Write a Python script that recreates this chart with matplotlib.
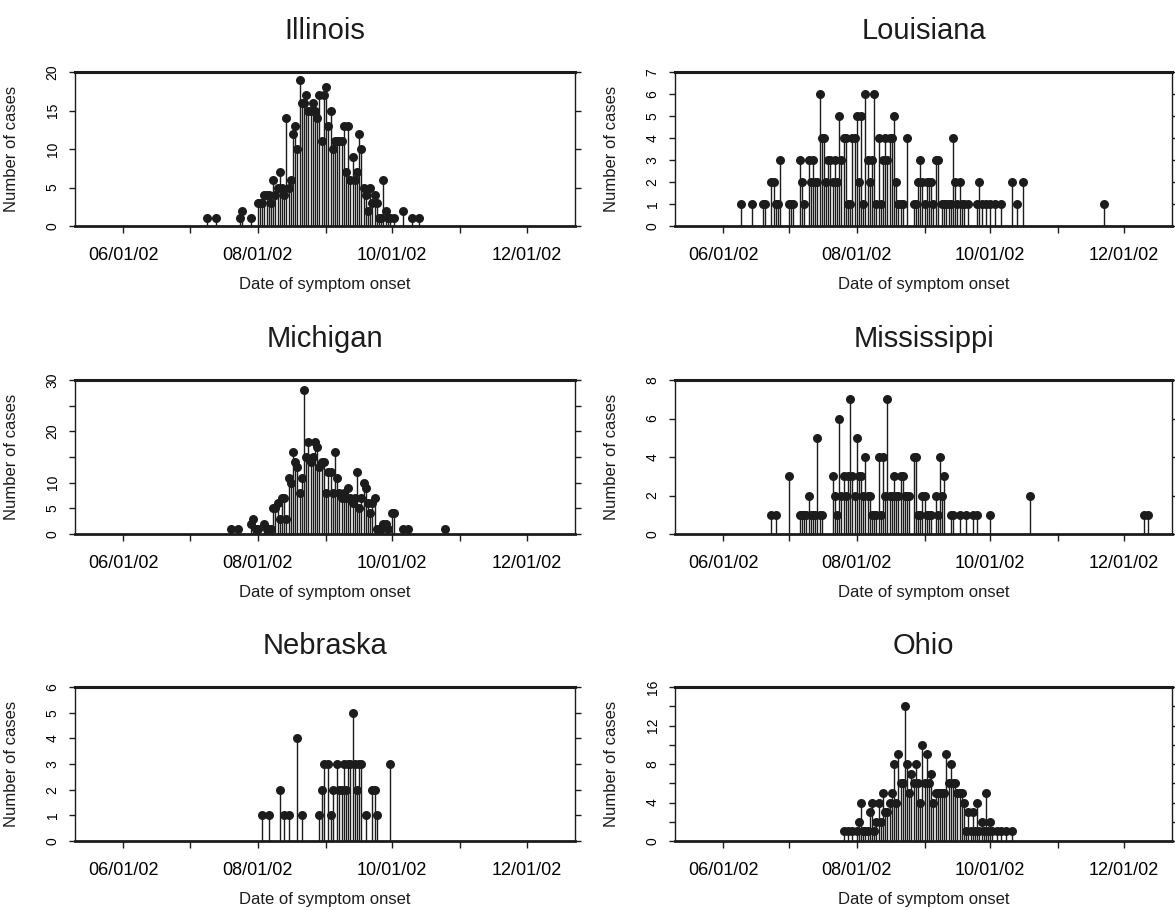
import matplotlib
matplotlib.use("Agg")
import matplotlib.pyplot as plt
import matplotlib.dates as mdates
import pandas as pd

plt.rcParams['font.family'] = ['Liberation Sans', 'DejaVu Sans']

# ---- data: onset date (2002) and number of cases ----
il_dates = ["07-09", "07-13", "07-24", "07-25", "07-29",
            "08-01", "08-02", "08-03", "08-04", "08-05", "08-06", "08-07", "08-08", "08-09", "08-10",
            "08-11", "08-12", "08-13", "08-14", "08-15", "08-16", "08-17", "08-18", "08-19", "08-20",
            "08-21", "08-22", "08-23", "08-24", "08-25", "08-26", "08-27", "08-28", "08-29", "08-30",
            "08-31", "09-01", "09-02", "09-03", "09-04", "09-05", "09-06", "09-07", "09-08", "09-09",
            "09-10", "09-11", "09-12", "09-13", "09-14", "09-15", "09-16", "09-17", "09-18", "09-19",
            "09-20", "09-21", "09-22", "09-23", "09-24", "09-25", "09-26", "09-27", "09-28", "09-29",
            "09-30", "10-02", "10-06", "10-10", "10-13"]
il_cases = [1, 1, 1, 2, 1,
            3, 3, 3, 4, 4, 4, 3, 6, 4, 5,
            7, 5, 4, 14, 5, 6, 12, 13, 10, 19,
            16, 16, 17, 15, 15, 16, 15, 14, 17, 11,
            17, 18, 13, 15, 10, 11, 11, 11, 11, 13,
            7, 13, 6, 9, 6, 7, 12, 10, 5, 4,
            2, 5, 3, 4, 3, 1, 1, 6, 2, 1,
            1, 1, 2, 1, 1]

la_dates = ["06-09", "06-14", "06-19", "06-20", "06-23", "06-24", "06-25", "06-26", "06-27",
            "07-01", "07-02", "07-03", "07-06", "07-07", "07-08", "07-10", "07-11", "07-12", "07-13",
            "07-14", "07-15", "07-16", "07-17", "07-18", "07-19", "07-20", "07-21", "07-22", "07-23",
            "07-24", "07-25", "07-26", "07-27", "07-28", "07-29", "07-30", "07-31",
            "08-01", "08-02", "08-03", "08-04", "08-05", "08-06", "08-07", "08-08", "08-09", "08-10",
            "08-11", "08-12", "08-13", "08-14", "08-15", "08-16", "08-17", "08-18", "08-19", "08-20",
            "08-21", "08-22", "08-24", "08-27", "08-28", "08-29", "08-30", "08-31",
            "09-01", "09-02", "09-03", "09-04", "09-05", "09-06", "09-07", "09-09", "09-10", "09-11",
            "09-12", "09-13", "09-14", "09-15", "09-16", "09-17", "09-18", "09-19", "09-21", "09-25",
            "09-26", "09-27", "09-29", "10-01", "10-03", "10-06", "10-11", "10-13", "10-16", "11-22"]
la_cases = [1, 1, 1, 1, 2, 2, 1, 1, 3,
            1, 1, 1, 3, 2, 1, 3, 2, 3, 2,
            2, 6, 4, 4, 2, 3, 3, 2, 3, 2,
            5, 3, 4, 4, 1, 1, 4, 4,
            5, 2, 5, 1, 6, 3, 2, 3, 6, 1,
            4, 1, 3, 4, 3, 4, 4, 5, 2, 1,
            1, 1, 4, 1, 1, 2, 3, 2,
            1, 2, 2, 2, 1, 3, 3, 1, 1, 1,
            1, 1, 4, 2, 1, 2, 1, 1, 1, 1,
            2, 1, 1, 1, 1, 1, 2, 1, 2, 1]

mi_dates = ["07-20", "07-23", "07-29", "07-30", "07-31", "08-01", "08-04", "08-05", "08-06", "08-07",
            "08-08", "08-09", "08-10", "08-11", "08-12", "08-13", "08-14", "08-15", "08-16", "08-17",
            "08-18", "08-19", "08-20", "08-21", "08-22", "08-23", "08-24", "08-25", "08-26", "08-27",
            "08-28", "08-29", "08-30", "08-31", "09-01", "09-02", "09-03", "09-04", "09-05", "09-06",
            "09-07", "09-08", "09-09", "09-10", "09-11", "09-12", "09-13", "09-14", "09-15", "09-16",
            "09-17", "09-18", "09-19", "09-20", "09-21", "09-22", "09-23", "09-24", "09-25", "09-26",
            "09-27", "09-28", "09-29", "10-01", "10-02", "10-06", "10-08", "10-25"]
mi_cases = [1, 1, 2, 3, 1, 1, 2, 1, 1, 1,
            5, 5, 6, 3, 7, 7, 3, 11, 10, 16,
            14, 13, 8, 11, 28, 15, 18, 14, 15, 18,
            17, 13, 14, 14, 8, 12, 12, 8, 16, 11,
            8, 7, 8, 7, 9, 7, 6, 7, 12, 5,
            7, 10, 9, 6, 4, 6, 7, 1, 1, 1,
            2, 2, 1, 4, 4, 1, 1, 1]

ms_dates = ["06-23", "06-25", "07-01", "07-06", "07-07", "07-08", "07-09", "07-10", "07-11", "07-12",
            "07-13", "07-14", "07-15", "07-16", "07-21", "07-22", "07-23", "07-24", "07-25", "07-26",
            "07-27", "07-28", "07-29", "07-30", "07-31", "08-01", "08-02", "08-03", "08-04", "08-05",
            "08-06", "08-07", "08-08", "08-09", "08-10", "08-11", "08-12", "08-13", "08-14", "08-15",
            "08-16", "08-17", "08-18", "08-19", "08-20", "08-21", "08-22", "08-23", "08-24", "08-25",
            "08-27", "08-28", "08-29", "08-30", "08-31", "09-01", "09-02", "09-03", "09-04", "09-06",
            "09-07", "09-08", "09-09", "09-10", "09-13", "09-14", "09-17", "09-20", "09-23", "09-25",
            "10-01", "10-19", "12-10", "12-12"]
ms_cases = [1, 1, 3, 1, 1, 1, 1, 2, 1, 1,
            1, 5, 1, 1, 3, 2, 1, 6, 2, 3,
            2, 3, 7, 3, 2, 5, 3, 3, 2, 4,
            2, 2, 1, 1, 1, 4, 1, 4, 2, 7,
            2, 2, 3, 2, 2, 3, 3, 2, 2, 2,
            4, 4, 1, 1, 2, 2, 1, 1, 1, 2,
            1, 4, 2, 3, 1, 1, 1, 1, 1, 1,
            1, 2, 1, 1]

ne_dates = ["08-03", "08-06", "08-11", "08-13", "08-15", "08-19", "08-21", "08-29", "08-30", "08-31",
            "09-02", "09-03", "09-04", "09-06", "09-07", "09-08", "09-09", "09-10", "09-11", "09-12",
            "09-13", "09-14", "09-15", "09-16", "09-17", "09-19", "09-22", "09-23", "09-24", "09-30"]
ne_cases = [1, 1, 2, 1, 1, 4, 1, 1, 2, 3,
            3, 1, 2, 3, 2, 2, 3, 2, 3, 3,
            5, 3, 2, 3, 3, 1, 2, 2, 1, 3]

oh_dates = ["07-26", "07-28", "07-30", "08-01", "08-02", "08-03", "08-04", "08-05", "08-06", "08-07",
            "08-08", "08-09", "08-10", "08-11", "08-12", "08-13", "08-14", "08-15", "08-16", "08-17",
            "08-18", "08-19", "08-20", "08-21", "08-22", "08-23", "08-24", "08-25", "08-26", "08-27",
            "08-28", "08-29", "08-30", "08-31", "09-01", "09-02", "09-03", "09-04", "09-05", "09-06",
            "09-07", "09-08", "09-09", "09-10", "09-11", "09-12", "09-13", "09-14", "09-15", "09-16",
            "09-17", "09-18", "09-19", "09-20", "09-21", "09-22", "09-23", "09-24", "09-25", "09-26",
            "09-27", "09-28", "09-29", "09-30", "10-01", "10-02", "10-04", "10-06", "10-08", "10-11"]
oh_cases = [1, 1, 1, 1, 2, 4, 1, 1, 1, 3,
            4, 1, 2, 4, 2, 5, 3, 3, 4, 5,
            8, 4, 9, 6, 6, 14, 8, 5, 7, 6,
            8, 6, 4, 10, 6, 9, 6, 7, 4, 5,
            5, 5, 5, 5, 9, 6, 8, 6, 6, 5,
            5, 5, 4, 1, 3, 1, 3, 1, 4, 1,
            2, 1, 5, 1, 2, 1, 1, 1, 1, 1]

states = ["Illinois", "Louisiana", "Michigan", "Mississippi", "Nebraska", "Ohio"]
all_dates = [il_dates, la_dates, mi_dates, ms_dates, ne_dates, oh_dates]
all_cases = [il_cases, la_cases, mi_cases, ms_cases, ne_cases, oh_cases]
y_max = [20, 7, 30, 8, 6, 16]
y_ticks = [[0, 5, 10, 15, 20], list(range(8)), [0, 5, 10, 15, 20, 25, 30],
           [0, 2, 4, 6, 8], list(range(7)), list(range(0, 17, 2))]
y_labels = [[0, 5, 10, 15, 20], list(range(8)), [0, 5, 10, 20, 30],
            [0, 2, 4, 6, 8], list(range(7)), [0, 4, 8, 12, 16]]

ink = "#1c1c1c"
W, H = 1175, 910
fig = plt.figure(figsize=(W / 100, H / 100), dpi=100)

col_x = [75 / W, 675 / W]
col_w = [500 / W, 497 / W]
row_top = [72, 380, 687]
ax_h = 154

for i, name in enumerate(states):
    r, c = divmod(i, 2)
    bottom = 1 - (row_top[r] + ax_h) / H
    ax = fig.add_axes([col_x[c], bottom, col_w[c], ax_h / H])

    d = pd.to_datetime(["2002-" + s for s in all_dates[i]])
    n = all_cases[i]
    ax.vlines(d, 0, n, color=ink, lw=1.0)
    ax.plot(d, n, "o", color=ink, ms=6.5, mew=0)

    ax.set_xlim(pd.Timestamp("2002-05-10"), pd.Timestamp("2002-12-23"))
    ax.set_ylim(0, y_max[i])
    ax.xaxis.set_major_locator(mdates.MonthLocator(bymonth=[6, 8, 10, 12]))
    ax.xaxis.set_minor_locator(mdates.MonthLocator(bymonth=[7, 9, 11]))
    ax.xaxis.set_major_formatter(mdates.DateFormatter("%m/%d/%y"))
    ax.set_yticks(y_ticks[i])
    ax.set_yticklabels([str(t) if t in y_labels[i] else "" for t in y_ticks[i]],
                       rotation=90, va="center", fontsize=10)

    ax.tick_params(axis="x", which="both", direction="out", length=5, width=1,
                   labelsize=13, pad=10, color=ink)
    ax.tick_params(axis="y", direction="out", length=4, width=1, pad=7,
                   right=True, labelright=False, color=ink)

    for side in ["left", "right"]:
        ax.spines[side].set_linewidth(1.0)
    ax.spines["top"].set_linewidth(2.2)
    ax.spines["bottom"].set_linewidth(2.0)
    for sp in ax.spines.values():
        sp.set_color(ink)

    ax.set_title(name, fontsize=21, pad=24, color=ink)
    ax.set_xlabel("Date of symptom onset", fontsize=12, color=ink)
    ax.set_ylabel("Number of cases", fontsize=12, color=ink)
    ax.xaxis.set_label_coords(0.5, -0.33)
    ax.yaxis.set_label_coords(-0.112, 0.5)

fig.savefig("out.png", dpi=100, facecolor="white")
